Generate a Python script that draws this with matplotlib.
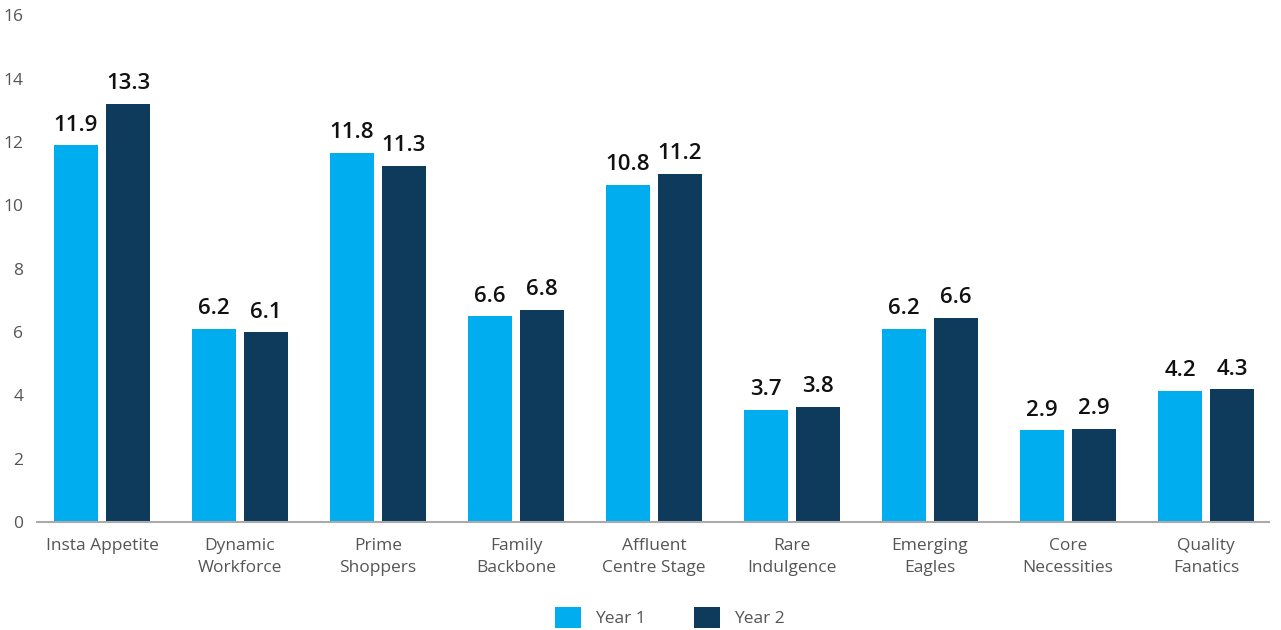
import matplotlib.pyplot as plt
import numpy as np

plt.rcParams['font.family'] = ['Open Sans', 'DejaVu Sans']

categories = ["Insta Appetite", "Dynamic\nWorkforce", "Prime\nShoppers", "Family\nBackbone",
              "Affluent\nCentre Stage", "Rare\nIndulgence", "Emerging\nEagles", "Core\nNecessities",
              "Quality\nFanatics"]
year1 = [11.9, 6.1, 11.65, 6.5, 10.65, 3.55, 6.1, 2.9, 4.15]
year2 = [13.2, 6.0, 11.25, 6.7, 11.0, 3.65, 6.45, 2.95, 4.2]
year1_labels = ["11.9", "6.2", "11.8", "6.6", "10.8", "3.7", "6.2", "2.9", "4.2"]
year2_labels = ["13.3", "6.1", "11.3", "6.8", "11.2", "3.8", "6.6", "2.9", "4.3"]

c1 = "#00aeef"
c2 = "#0e3a5b"
grey = "#555555"

fig = plt.figure(figsize=(12.81, 6.3), dpi=100)
ax = fig.add_axes([0.029, 0.171, 0.962, 0.805])

x = np.arange(len(categories))
w = 0.319
off = (w + 0.058) / 2
b1 = ax.bar(x - off, year1, w, color=c1, label="Year 1")
b2 = ax.bar(x + off, year2, w, color=c2, label="Year 2")

for bars, labels in ((b1, year1_labels), (b2, year2_labels)):
    for bar, lab in zip(bars, labels):
        ax.text(bar.get_x() + bar.get_width() / 2, bar.get_height() + 0.3, lab,
                ha="center", va="bottom", fontsize=16, fontweight="semibold", color="#111111")

ax.set_xlim(-0.47, 8.46)
ax.set_ylim(0, 16)
ax.set_yticks(np.arange(0, 17, 2))
ax.set_xticks(x)
ax.set_xticklabels(categories, linespacing=1.55)
ax.tick_params(axis="both", length=0, labelsize=12.5, labelcolor=grey)
ax.tick_params(axis="y", pad=10)
ax.tick_params(axis="x", pad=11)
for s in ("top", "right", "left"):
    ax.spines[s].set_visible(False)
ax.spines["bottom"].set_color("#aaaaaa")
ax.spines["bottom"].set_linewidth(1.5)

leg = fig.legend(loc="lower center", bbox_to_anchor=(0.523, -0.022), ncol=2, frameon=False,
                 fontsize=12.5, handlelength=1.5, handleheight=1.5, columnspacing=2.8,
                 handletextpad=0.8)
for t in leg.get_texts():
    t.set_color(grey)

plt.savefig("out.png", dpi=100)
